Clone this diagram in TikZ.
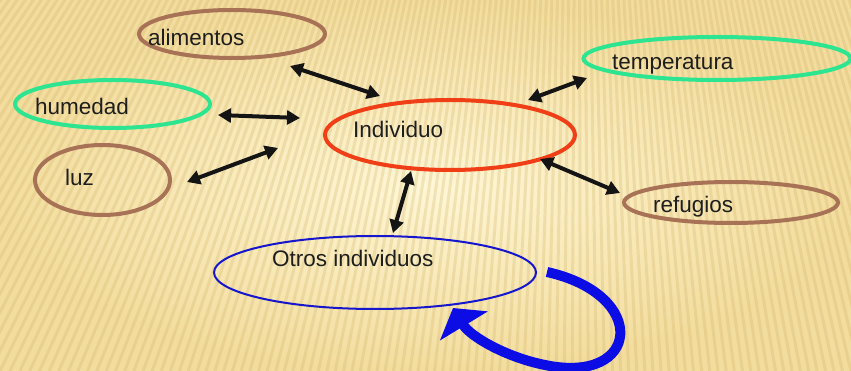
\documentclass[tikz,border=0pt]{standalone}
\usepackage{fontspec}
\setmainfont{Liberation Sans}
\usetikzlibrary{shapes.geometric,arrows.meta}
\definecolor{brownC}{RGB}{168,114,86}
\definecolor{greenC}{RGB}{45,228,145}
\definecolor{redC}{RGB}{240,62,22}
\definecolor{blueC}{RGB}{22,22,205}
\definecolor{blueA}{RGB}{12,12,228}
\definecolor{txt}{RGB}{30,30,30}
\definecolor{bgin}{RGB}{255,247,214}
\definecolor{bgout}{RGB}{243,221,158}
\definecolor{stripeC}{RGB}{205,172,95}
\begin{document}
\begin{tikzpicture}[x=1pt,y=-1pt,
  oval/.style={ellipse,draw,inner sep=0pt,line width=4pt},
  lbl/.style={anchor=base west,inner sep=0pt,text=txt,font=\fontsize{22.5}{26}\selectfont},
  dbl/.style={line width=4pt,draw=black!92,{Triangle[length=13pt,width=14pt]}-{Triangle[length=13pt,width=14pt]}},
  loopar/.style={line width=10pt,draw=blueA,-{Triangle[length=21pt,width=55pt]}},
  stripe/.style={line width=3pt,draw=stripeC,opacity=0.25}]
\useasboundingbox (0,0) rectangle (851,371);
% background
\shade[inner color=bgin,outer color=bgout] (0,0) rectangle (851,371);
\begin{scope}
\clip (0,0) rectangle (851,371);
\foreach \a in {70,70.39,...,127}{
  \draw[stripe] (578,-813) -- ++(\a:1500);
}
\end{scope}
% ellipses
\node[oval,draw=brownC,minimum width=186pt,minimum height=48pt] (alim) at (232,34) {};
\node[oval,draw=greenC,minimum width=195pt,minimum height=48pt] (hum) at (112.5,104) {};
\node[oval,draw=brownC,minimum width=135pt,minimum height=70pt] (luz) at (102.5,180) {};
\node[oval,draw=redC,minimum width=250pt,minimum height=70pt] (ind) at (450,135) {};
\node[oval,draw=greenC,minimum width=267pt,minimum height=43pt] (temp) at (717,58.5) {};
\node[oval,draw=brownC,minimum width=214pt,minimum height=41pt] (ref) at (731,202.5) {};
\node[oval,draw=blueC,line width=2pt,minimum width=322pt,minimum height=73pt] (otros) at (375,272.5) {};
% labels
\node[lbl] (talim) at (148,46) {alimentos};
\node[lbl] (thum) at (35,115) {humedad};
\node[lbl] (tluz) at (65,186) {luz};
\node[lbl] (tind) at (353,138) {Individuo};
\node[lbl] (ttemp) at (612,70) {temperatura};
\node[lbl] (tref) at (653,213) {refugios};
\node[lbl] (totros) at (272,267) {Otros individuos};
% connector ends
\coordinate (a1) at (290,66);  \coordinate (a2) at (380,96);
\coordinate (h1) at (218,115); \coordinate (h2) at (300,118);
\coordinate (l1) at (187,182); \coordinate (l2) at (278,148);
\coordinate (o1) at (411,171); \coordinate (o2) at (393,233);
\coordinate (t1) at (528,100); \coordinate (t2) at (587,78);
\coordinate (r1) at (540,159); \coordinate (r2) at (620,193);
\coordinate (b0) at (547,272); \coordinate (b1) at (545,365); \coordinate (b2) at (453,308);
% connectors
\draw[dbl] (a1) -- (a2);
\draw[dbl] (h1) -- (h2);
\draw[dbl] (l1) -- (l2);
\draw[dbl] (o1) -- (o2);
\draw[dbl] (t1) -- (t2);
\draw[dbl] (r1) -- (r2);
\draw[loopar] (b0) .. controls (650,295) and (640,385) .. (b1)
   .. controls (505,357) and (470,336) .. (b2);
\end{tikzpicture}
\end{document}
